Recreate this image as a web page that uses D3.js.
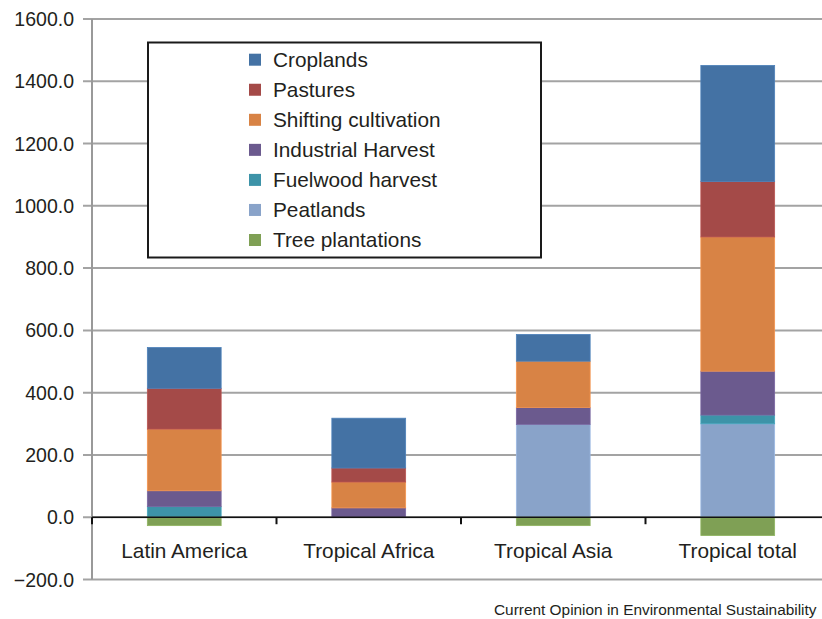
<!DOCTYPE html>
<html>
<head>
<meta charset="utf-8">
<script src="https://cdn.jsdelivr.net/npm/d3@7"></script>
<style>
  html, body { margin: 0; padding: 0; background: #fff; }
  svg { display: block; font-family: "Liberation Sans", Arial, Helvetica, sans-serif; }
</style>
</head>
<body>
<svg id="chart" width="822" height="619"></svg>
<script>
// Regions along the x axis
const categories = ["Latin America", "Tropical Africa", "Tropical Asia", "Tropical total"];

// Emissions by land-use driver (one value per region)
const croplands       = [131, 160,  86, 373];
const pastures        = [131,  45,   0, 178];
const shifting        = [198,  83, 149, 431];
const industrial      = [ 51,  30,  54, 141];
const fuelwood        = [ 34,   0,   0,  28];
const peatlands       = [  0,   0, 298, 300];
const treePlantations = [-27,   0, -27, -59];

const seriesNames = ["Croplands", "Pastures", "Shifting cultivation", "Industrial Harvest",
                     "Fuelwood harvest", "Peatlands", "Tree plantations"];
const seriesValues = [croplands, pastures, shifting, industrial, fuelwood, peatlands, treePlantations];
const seriesColors = ["#4472a4", "#a44a48", "#d88345", "#6b5a8e", "#3d93a8", "#89a3c9", "#7fa055"];

// Bottom-to-top stacking order
const stackOrder = ["Peatlands", "Fuelwood harvest", "Industrial Harvest", "Shifting cultivation",
                    "Pastures", "Croplands", "Tree plantations"];

const yTicks = [-200, 0, 200, 400, 600, 800, 1000, 1200, 1400, 1600];

const rows = categories.map((c, i) => {
  const r = { category: c };
  seriesNames.forEach((s, k) => { r[s] = seriesValues[k][i]; });
  return r;
});
const color = d3.scaleOrdinal(seriesNames, seriesColors);

const svg = d3.select("#chart");
const plotLeft = 92, plotRight = 830, plotTop = 19, plotBottom = 579.5;

const x = d3.scaleBand().domain(categories).range([plotLeft, plotRight])
  .paddingInner(0.6).paddingOuter(0.3);
const y = d3.scaleLinear().domain([-200, 1600]).range([plotBottom, plotTop]);

const textColor = "#231f20";

// Horizontal gridlines with short ticks left of the axis
svg.append("g").selectAll("line").data(yTicks).join("line")
  .attr("x1", plotLeft - 9).attr("x2", plotRight)
  .attr("y1", d => y(d)).attr("y2", d => y(d))
  .attr("stroke", "#a3a3a3").attr("stroke-width", 2);

// Vertical axis line
svg.append("line")
  .attr("x1", plotLeft).attr("x2", plotLeft).attr("y1", y(1600)).attr("y2", y(-200))
  .attr("stroke", "#999").attr("stroke-width", 2);

// Y tick labels
svg.append("g").selectAll("text").data(yTicks).join("text")
  .attr("x", 74).attr("y", d => y(d)).attr("dy", "0.36em")
  .attr("text-anchor", "end").attr("font-size", 19.5).attr("fill", textColor)
  .text(d3.format(".1f"));

// Stacked bars
const stack = d3.stack().keys(stackOrder).offset(d3.stackOffsetDiverging)
  .order(d3.stackOrderNone);
const layers = stack(rows);

svg.append("g").selectAll("g").data(layers).join("g")
  .attr("fill", d => color(d.key))
  .attr("stroke", d => d3.color(color(d.key)).brighter(0.35))
  .attr("stroke-width", 0.8)
  .selectAll("rect").data(d => d.filter(p => p[1] !== p[0])).join("rect")
  .attr("x", d => x(d.data.category))
  .attr("width", x.bandwidth())
  .attr("y", d => y(Math.max(d[0], d[1])))
  .attr("height", d => Math.abs(y(d[0]) - y(d[1])));

// Zero baseline with category separators
svg.append("line")
  .attr("x1", plotLeft).attr("x2", plotRight).attr("y1", y(0)).attr("y2", y(0))
  .attr("stroke", "#111").attr("stroke-width", 1.5);
const step = x.step();
const sepX = d3.range(0, categories.length).map(i => plotLeft + i * step);
svg.append("g").selectAll("line").data(sepX).join("line")
  .attr("x1", d => d).attr("x2", d => d)
  .attr("y1", y(0)).attr("y2", y(0) + 7)
  .attr("stroke", "#111").attr("stroke-width", 2);

// Category labels
svg.append("g").selectAll("text").data(categories).join("text")
  .attr("x", d => x(d) + x.bandwidth() / 2).attr("y", 558)
  .attr("text-anchor", "middle").attr("font-size", 20.8).attr("fill", textColor)
  .text(d => d);

// Legend
const lg = svg.append("g");
lg.append("rect").attr("x", 148).attr("y", 42.5).attr("width", 393).attr("height", 215)
  .attr("fill", "#fff").attr("stroke", "#1a1a1a").attr("stroke-width", 2);
const item = lg.selectAll("g.item").data(seriesNames).join("g").attr("class", "item")
  .attr("transform", (d, i) => `translate(249, ${59.7 + i * 30.05})`);
item.append("rect").attr("x", 0).attr("y", -6).attr("width", 12).attr("height", 12)
  .attr("fill", d => color(d));
item.append("text").attr("x", 24).attr("y", 0).attr("dy", "0.33em")
  .attr("font-size", 20.8).attr("fill", textColor).text(d => d);

// Journal credit line
svg.append("text").attr("x", 494).attr("y", 615)
  .attr("font-size", 15.4).attr("fill", textColor)
  .text("Current Opinion in Environmental Sustainability");
</script>
</body>
</html>
